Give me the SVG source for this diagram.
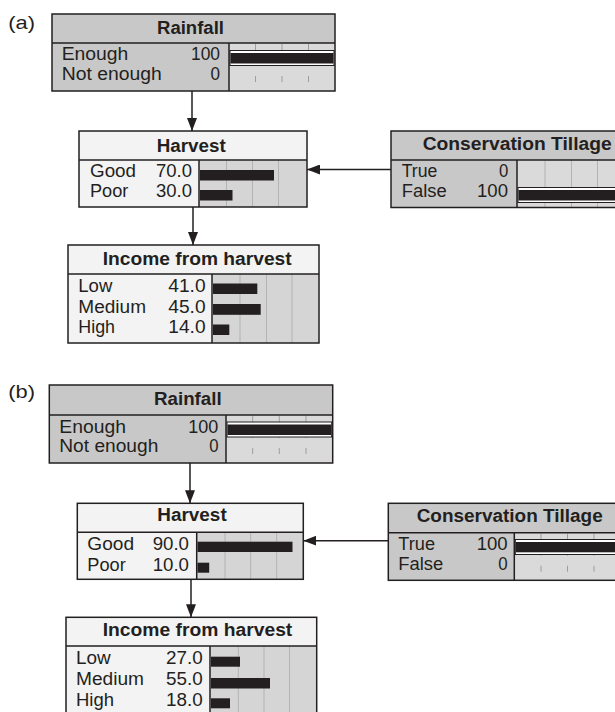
<svg xmlns="http://www.w3.org/2000/svg" width="615" height="712" viewBox="0 0 615 712">
<defs>
<style>
.t{font-family:"Liberation Sans",Arial,Helvetica,sans-serif;font-size:17.5px;fill:#231f20}
.b{font-weight:bold}
.lbl{font-family:"Liberation Sans",Arial,Helvetica,sans-serif;font-size:19px;fill:#231f20}
.ev{fill:#c8c8c8}
.ne{fill:#f3f3f3}
.ba{fill:#d5d5d5}
.bae{fill:#dadada}
.grid{stroke:#b3b3b3;stroke-width:1}
.gride{stroke:#9e9e9e;stroke-width:1;stroke-dasharray:6 10}
.bar{fill:#231f20}
.evbar{fill:#ffffff;stroke:#231f20;stroke-width:1}
.edge{fill:none;stroke:#231f20;stroke-width:1.5}
.sep{stroke:#231f20;stroke-width:1.5}
.conn{stroke:#231f20;stroke-width:1.5;fill:none}
</style>
<marker id="ah" viewBox="0 0 13 10" refX="13" refY="5" markerWidth="13" markerHeight="10" orient="auto" markerUnits="userSpaceOnUse">
<path d="M0,0 L13,5 L0,10 z" fill="#231f20"/>
</marker>
</defs>
<rect width="615" height="712" fill="#ffffff"/>

<text class="lbl" x="8.3" y="28.5" textLength="26.7" lengthAdjust="spacingAndGlyphs">(a)</text>
<text class="lbl" x="8.3" y="398.3" textLength="26.7" lengthAdjust="spacingAndGlyphs">(b)</text>

<g id="connectors">
<line class="conn" x1="192" y1="91" x2="192" y2="131" marker-end="url(#ah)"/>
<line class="conn" x1="193" y1="207" x2="193" y2="245" marker-end="url(#ah)"/>
<line class="conn" x1="391" y1="169.5" x2="307" y2="169.5" marker-end="url(#ah)"/>
<line class="conn" x1="190" y1="463" x2="190" y2="503.3" marker-end="url(#ah)"/>
<line class="conn" x1="191" y1="579.3" x2="191" y2="617.3" marker-end="url(#ah)"/>
<line class="conn" x1="388.3" y1="540.7" x2="303.3" y2="540.7" marker-end="url(#ah)"/>
</g>

<!-- (a) Rainfall -->
<g id="a-rainfall">
<rect class="ev" x="52" y="14" width="283" height="77"/>
<rect class="bae" x="229" y="43" width="106" height="48"/>
<line class="gride" x1="255.5" y1="44" x2="255.5" y2="91"/>
<line class="gride" x1="282" y1="44" x2="282" y2="91"/>
<line class="gride" x1="308.5" y1="44" x2="308.5" y2="91"/>
<rect class="evbar" x="230" y="50.5" width="104" height="15"/>
<rect class="bar" x="230.5" y="53" width="103" height="10.5"/>
<line class="sep" x1="52" y1="43" x2="335" y2="43"/>
<line class="sep" x1="229" y1="43" x2="229" y2="91"/>
<rect class="edge" x="52" y="14" width="283" height="77"/>
<text class="t b" x="157" y="33.5" textLength="67" lengthAdjust="spacingAndGlyphs">Rainfall</text>
<text class="t" x="61.7" y="60" textLength="66.7" lengthAdjust="spacingAndGlyphs">Enough</text>
<text class="t" x="191" y="60" textLength="29" lengthAdjust="spacingAndGlyphs">100</text>
<text class="t" x="61.7" y="80" textLength="100" lengthAdjust="spacingAndGlyphs">Not enough</text>
<text class="t" x="210.5" y="80" textLength="9.5" lengthAdjust="spacingAndGlyphs">0</text>
</g>

<!-- (a) Harvest -->
<g id="a-harvest">
<rect class="ne" x="79" y="131" width="228" height="76"/>
<rect class="ba" x="199" y="160" width="108" height="47"/>
<line class="grid" x1="226.5" y1="160" x2="226.5" y2="207"/>
<line class="grid" x1="252.5" y1="160" x2="252.5" y2="207"/>
<line class="grid" x1="278.5" y1="160" x2="278.5" y2="207"/>
<rect class="bar" x="200" y="170" width="74" height="10.5"/>
<rect class="bar" x="200" y="190" width="32.5" height="10.5"/>
<line class="sep" x1="79" y1="160" x2="307" y2="160"/>
<line class="sep" x1="199" y1="160" x2="199" y2="207"/>
<rect class="edge" x="79" y="131" width="228" height="76"/>
<text class="t b" x="156.7" y="151.7" textLength="69" lengthAdjust="spacingAndGlyphs">Harvest</text>
<text class="t" x="90" y="177" textLength="46" lengthAdjust="spacingAndGlyphs">Good</text>
<text class="t" x="156" y="177" textLength="36" lengthAdjust="spacingAndGlyphs">70.0</text>
<text class="t" x="90" y="197" textLength="38.3" lengthAdjust="spacingAndGlyphs">Poor</text>
<text class="t" x="156" y="197" textLength="36" lengthAdjust="spacingAndGlyphs">30.0</text>
</g>

<!-- (a) Conservation Tillage -->
<g id="a-tillage">
<rect class="ev" x="391" y="131" width="240" height="76.5"/>
<rect class="bae" x="517" y="160" width="114" height="47.5"/>
<line class="grid" x1="545" y1="160" x2="545" y2="207"/>
<line class="grid" x1="571.5" y1="160" x2="571.5" y2="207"/>
<line class="grid" x1="597.5" y1="160" x2="597.5" y2="207"/>
<rect class="evbar" x="518" y="187.5" width="110" height="15"/>
<rect class="bar" x="518.5" y="190" width="110" height="10.5"/>
<line class="sep" x1="391" y1="160" x2="631" y2="160"/>
<line class="sep" x1="517" y1="160" x2="517" y2="207.5"/>
<rect class="edge" x="391" y="131" width="240" height="76.5"/>
<text class="t b" x="422.7" y="150" textLength="189" lengthAdjust="spacingAndGlyphs">Conservation Tillage</text>
<text class="t" x="401.7" y="177" textLength="35.7" lengthAdjust="spacingAndGlyphs">True</text>
<text class="t" x="499" y="177" textLength="9.3" lengthAdjust="spacingAndGlyphs">0</text>
<text class="t" x="401.7" y="197" textLength="45" lengthAdjust="spacingAndGlyphs">False</text>
<text class="t" x="477" y="197" textLength="31" lengthAdjust="spacingAndGlyphs">100</text>
</g>

<!-- (a) Income from harvest -->
<g id="a-income">
<rect class="ne" x="68" y="245" width="251" height="98"/>
<rect class="ba" x="212" y="274" width="107" height="69"/>
<line class="grid" x1="240" y1="274" x2="240" y2="343"/>
<line class="grid" x1="266.5" y1="274" x2="266.5" y2="343"/>
<line class="grid" x1="292" y1="274" x2="292" y2="343"/>
<rect class="bar" x="213" y="283.5" width="44.3" height="10.5"/>
<rect class="bar" x="213" y="304" width="47.7" height="10.8"/>
<rect class="bar" x="213" y="324.5" width="16.3" height="10.5"/>
<line class="sep" x1="68" y1="274" x2="319" y2="274"/>
<line class="sep" x1="212" y1="274" x2="212" y2="343"/>
<rect class="edge" x="68" y="245" width="251" height="98"/>
<text class="t b" x="102.7" y="264.5" textLength="189" lengthAdjust="spacingAndGlyphs">Income from harvest</text>
<text class="t" x="78.3" y="292" textLength="34" lengthAdjust="spacingAndGlyphs">Low</text>
<text class="t" x="168.3" y="292" textLength="37.3" lengthAdjust="spacingAndGlyphs">41.0</text>
<text class="t" x="78.3" y="312.5" textLength="67.7" lengthAdjust="spacingAndGlyphs">Medium</text>
<text class="t" x="168.3" y="312.5" textLength="37.3" lengthAdjust="spacingAndGlyphs">45.0</text>
<text class="t" x="78.3" y="333" textLength="36.7" lengthAdjust="spacingAndGlyphs">High</text>
<text class="t" x="168.3" y="333" textLength="37.3" lengthAdjust="spacingAndGlyphs">14.0</text>
</g>

<!-- (b) Rainfall -->
<g id="b-rainfall">
<rect class="ev" x="49.3" y="385" width="283.4" height="78"/>
<rect class="bae" x="226" y="415" width="106.7" height="48"/>
<line class="gride" x1="252.7" y1="416" x2="252.7" y2="463"/>
<line class="gride" x1="279.3" y1="416" x2="279.3" y2="463"/>
<line class="gride" x1="306" y1="416" x2="306" y2="463"/>
<rect class="evbar" x="227" y="422" width="104.7" height="15"/>
<rect class="bar" x="227.5" y="424.5" width="103.7" height="10.5"/>
<line class="sep" x1="49.3" y1="415" x2="332.7" y2="415"/>
<line class="sep" x1="226" y1="415" x2="226" y2="463"/>
<rect class="edge" x="49.3" y="385" width="283.4" height="78"/>
<text class="t b" x="154" y="405" textLength="67.7" lengthAdjust="spacingAndGlyphs">Rainfall</text>
<text class="t" x="59.3" y="433.3" textLength="66.7" lengthAdjust="spacingAndGlyphs">Enough</text>
<text class="t" x="188.3" y="433.3" textLength="30" lengthAdjust="spacingAndGlyphs">100</text>
<text class="t" x="59.3" y="452.3" textLength="99" lengthAdjust="spacingAndGlyphs">Not enough</text>
<text class="t" x="209.3" y="452.3" textLength="9.3" lengthAdjust="spacingAndGlyphs">0</text>
</g>

<!-- (b) Harvest -->
<g id="b-harvest">
<rect class="ne" x="77.3" y="503.3" width="226" height="76"/>
<rect class="ba" x="196.7" y="532.3" width="106.6" height="47"/>
<line class="grid" x1="225" y1="532.3" x2="225" y2="579.3"/>
<line class="grid" x1="250.7" y1="532.3" x2="250.7" y2="579.3"/>
<line class="grid" x1="276.7" y1="532.3" x2="276.7" y2="579.3"/>
<rect class="bar" x="197.5" y="541.7" width="95" height="10.3"/>
<rect class="bar" x="197.5" y="562.7" width="11.7" height="10"/>
<line class="sep" x1="77.3" y1="532.3" x2="303.3" y2="532.3"/>
<line class="sep" x1="196.7" y1="532.3" x2="196.7" y2="579.3"/>
<rect class="edge" x="77.3" y="503.3" width="226" height="76"/>
<text class="t b" x="157.3" y="520.7" textLength="69.4" lengthAdjust="spacingAndGlyphs">Harvest</text>
<text class="t" x="87.3" y="550" textLength="46.7" lengthAdjust="spacingAndGlyphs">Good</text>
<text class="t" x="152.7" y="550" textLength="36.3" lengthAdjust="spacingAndGlyphs">90.0</text>
<text class="t" x="87.3" y="570.7" textLength="38.4" lengthAdjust="spacingAndGlyphs">Poor</text>
<text class="t" x="152.7" y="570.7" textLength="36.3" lengthAdjust="spacingAndGlyphs">10.0</text>
</g>

<!-- (b) Conservation Tillage -->
<g id="b-tillage">
<rect class="ev" x="388.3" y="503.3" width="250" height="77"/>
<rect class="bae" x="514.3" y="532.7" width="124" height="47.6"/>
<line class="gride" x1="541" y1="533.7" x2="541" y2="580.3"/>
<line class="gride" x1="567.5" y1="533.7" x2="567.5" y2="580.3"/>
<line class="gride" x1="594" y1="533.7" x2="594" y2="580.3"/>
<rect class="evbar" x="515.3" y="539.5" width="110" height="15"/>
<rect class="bar" x="515.8" y="542" width="110" height="10.3"/>
<line class="sep" x1="388.3" y1="532.7" x2="638.3" y2="532.7"/>
<line class="sep" x1="514.3" y1="532.7" x2="514.3" y2="580.3"/>
<rect class="edge" x="388.3" y="503.3" width="250" height="77"/>
<text class="t b" x="416.7" y="521.5" textLength="186" lengthAdjust="spacingAndGlyphs">Conservation Tillage</text>
<text class="t" x="398.3" y="550" textLength="36.7" lengthAdjust="spacingAndGlyphs">True</text>
<text class="t" x="476.7" y="550" textLength="31" lengthAdjust="spacingAndGlyphs">100</text>
<text class="t" x="398.3" y="570" textLength="45" lengthAdjust="spacingAndGlyphs">False</text>
<text class="t" x="498.3" y="570" textLength="9.4" lengthAdjust="spacingAndGlyphs">0</text>
</g>

<!-- (b) Income from harvest -->
<g id="b-income">
<rect class="ne" x="66" y="617.3" width="250.7" height="100"/>
<rect class="ba" x="210" y="646" width="106.7" height="71.3"/>
<line class="grid" x1="238.3" y1="646" x2="238.3" y2="717"/>
<line class="grid" x1="264" y1="646" x2="264" y2="717"/>
<line class="grid" x1="289.5" y1="646" x2="289.5" y2="717"/>
<rect class="bar" x="211" y="656.7" width="29" height="10"/>
<rect class="bar" x="211" y="678" width="59" height="10.5"/>
<rect class="bar" x="211" y="698.3" width="19" height="10"/>
<line class="sep" x1="66" y1="646" x2="316.7" y2="646"/>
<line class="sep" x1="210" y1="646" x2="210" y2="717"/>
<rect class="edge" x="66" y="617.3" width="250.7" height="100"/>
<text class="t b" x="102.7" y="636" textLength="189.6" lengthAdjust="spacingAndGlyphs">Income from harvest</text>
<text class="t" x="76" y="664" textLength="34.7" lengthAdjust="spacingAndGlyphs">Low</text>
<text class="t" x="166" y="664" textLength="36.7" lengthAdjust="spacingAndGlyphs">27.0</text>
<text class="t" x="76" y="685" textLength="68" lengthAdjust="spacingAndGlyphs">Medium</text>
<text class="t" x="166" y="685" textLength="36.7" lengthAdjust="spacingAndGlyphs">55.0</text>
<text class="t" x="76" y="706" textLength="38" lengthAdjust="spacingAndGlyphs">High</text>
<text class="t" x="166" y="706" textLength="36.7" lengthAdjust="spacingAndGlyphs">18.0</text>
</g>
</svg>
